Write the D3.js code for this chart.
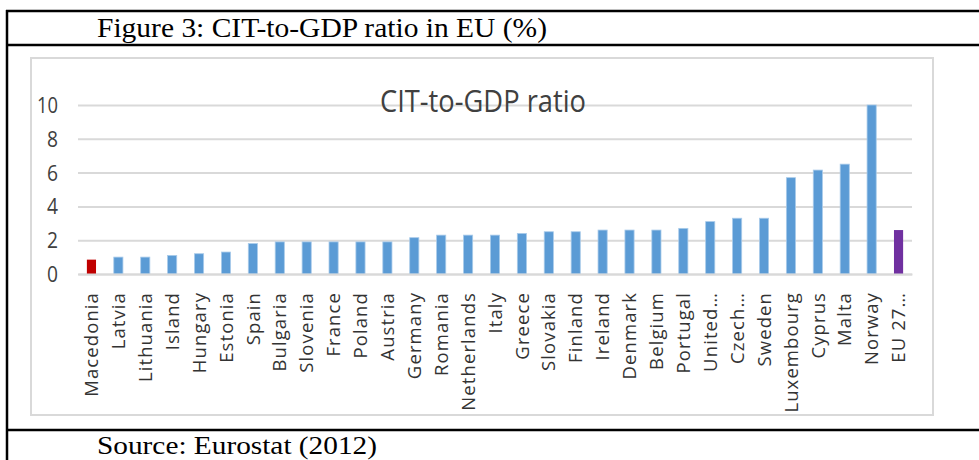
<!DOCTYPE html>
<html>
<head>
<meta charset="utf-8">
<script src="https://cdn.jsdelivr.net/npm/d3@7"></script>
<style>
  body { margin: 0; background: #fff; }
  svg { display: block; }
</style>
</head>
<body>
<svg id="chart-svg"></svg>
<script>
// data (CIT as % of GDP)
const countries = ['Macedonia', 'Latvia', 'Lithuania', 'Island', 'Hungary', 'Estonia', 'Spain',
    'Bulgaria', 'Slovenia', 'France', 'Poland', 'Austria', 'Germany', 'Romania', 'Netherlands',
    'Italy', 'Greece', 'Slovakia', 'Finland', 'Ireland', 'Denmark', 'Belgium', 'Portugal',
    'United…', 'Czech…', 'Sweden', 'Luxembourg', 'Cyprus', 'Malta', 'Norway', 'EU 27…'];
const values = [0.85, 1.0, 1.0, 1.1, 1.2, 1.3, 1.8,
    1.9, 1.9, 1.9, 1.9, 1.9, 2.15, 2.3, 2.3,
    2.3, 2.4, 2.5, 2.5, 2.6, 2.6, 2.6, 2.7,
    3.1, 3.3, 3.3, 5.7, 6.15, 6.5, 10.0, 2.6];
const yTicks = [0, 2, 4, 6, 8, 10];
const redBar = 'Macedonia';
const purpleBar = 'EU 27…';

const width = 979;
const height = 460;
const svg = d3.select('#chart-svg')
    .attr('width', width)
    .attr('height', height);

//outer table lines
svg.append('g')
    .attr('stroke', '#000')
    .attr('stroke-width', 2.5)
    .selectAll('line')
    .data([[6, 11, 979, 11], [6, 45, 979, 45], [6, 430, 979, 430], [7, 10, 7, 460]])
    .join('line')
    .attr('x1', d => d[0]).attr('y1', d => d[1])
    .attr('x2', d => d[2]).attr('y2', d => d[3]);

svg.append('text')
    .attr('x', 97)
    .attr('y', 37)
    .attr('font-family', '"Liberation Serif", "Times New Roman", serif')
    .attr('font-size', 27)
    .attr('textLength', 450)
    .attr('lengthAdjust', 'spacingAndGlyphs')
    .attr('fill', '#000')
    .text('Figure 3: CIT-to-GDP ratio in EU (%)');

svg.append('text')
    .attr('x', 97)
    .attr('y', 454)
    .attr('font-family', '"Liberation Serif", "Times New Roman", serif')
    .attr('font-size', 25)
    .attr('textLength', 280)
    .attr('lengthAdjust', 'spacingAndGlyphs')
    .attr('fill', '#000')
    .text('Source: Eurostat (2012)');

// chart frame
svg.append('rect')
    .attr('x', 31)
    .attr('y', 58)
    .attr('width', 902)
    .attr('height', 357)
    .attr('fill', '#fff')
    .attr('stroke', '#d9d9d9')
    .attr('stroke-width', 2);

const margin = {left: 78, right: 912, top: 105, bottom: 274};

const xScale = d3.scaleBand()
    .domain(countries)
    .range([margin.left, margin.right])
    .paddingInner(0.66)
    .paddingOuter(0.33);

const yScale = d3.scaleLinear()
    .domain([0, 10])
    .range([margin.bottom, margin.top]);

//gridlines + y labels
const yAxis = svg.append('g')
    .attr('id', 'y-axis')
    .attr('transform', 'translate(' + margin.left + ',0)')
    .call(d3.axisLeft(yScale)
        .tickValues(yTicks)
        .tickSize(-(margin.right - margin.left))
        .tickPadding(20)
        .tickFormat(d3.format('d')));
yAxis.select('.domain').remove();
yAxis.selectAll('.tick line')
    .attr('stroke', '#d9d9d9')
    .attr('stroke-width', 2);
yAxis.selectAll('.tick text')
    .attr('fill', '#404040')
    .attr('font-family', '"Open Sans", sans-serif')
    .attr('font-size', 21)
    .attr('dy', '0.36em')
    .attr('textLength', d => d >= 10 ? 21 : 11)
    .attr('lengthAdjust', 'spacingAndGlyphs');

// chart title
svg.append('text')
    .attr('x', 483)
    .attr('y', 112)
    .attr('text-anchor', 'middle')
    .attr('font-family', '"Open Sans", sans-serif')
    .attr('font-size', 31)
    .attr('textLength', 206)
    .attr('lengthAdjust', 'spacingAndGlyphs')
    .attr('fill', '#404040')
    .text('CIT-to-GDP ratio');

// bars
svg.append('g')
    .selectAll('rect')
    .data(countries)
    .join('rect')
    .attr('x', d => xScale(d))
    .attr('y', (d, i) => yScale(values[i]))
    .attr('width', xScale.bandwidth())
    .attr('height', (d, i) => yScale(0) - yScale(values[i]))
    .attr('fill', d => d === redBar ? '#c00000' : d === purpleBar ? '#7030a0' : '#5b9bd5')
    .attr('stroke', d => d === redBar || d === purpleBar ? 'none' : '#a9cbea')
    .attr('stroke-width', 0.8);

// category labels
const xAxis = svg.append('g')
    .attr('id', 'x-axis')
    .attr('transform', 'translate(0,' + margin.bottom + ')')
    .call(d3.axisBottom(xScale).tickSize(0).tickPadding(0));
xAxis.select('.domain')
    .attr('stroke', '#d9d9d9')
    .attr('stroke-width', 2);
xAxis.selectAll('.tick text')
    .attr('transform', 'rotate(-90)')
    .attr('x', -18)
    .attr('y', 0)
    .attr('dy', '0.36em')
    .style('text-anchor', 'end')
    .attr('fill', '#333')
    .attr('font-family', '"Open Sans", sans-serif')
    .attr('font-size', 18.5)
    .attr('letter-spacing', 1.1);
</script>
</body>
</html>
